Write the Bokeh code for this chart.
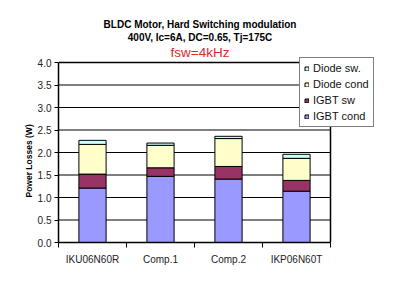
import math
from bokeh.plotting import figure
from bokeh.models import (FixedTicker, Legend, LegendItem, Label, ColumnDataSource,
                          Range1d, PrintfTickFormatter, Title)
from bokeh.embed import file_html
from bokeh.resources import INLINE

# ---- data ----
categories = ["IKU06N60R", "Comp.1", "Comp.2", "IKP06N60T"]
igbt_cond = [1.21, 1.47, 1.41, 1.14]
igbt_sw = [0.31, 0.19, 0.28, 0.24]
diode_cond = [0.66, 0.50, 0.62, 0.49]
diode_sw = [0.09, 0.05, 0.05, 0.09]
series_keys = ["igbt_cond", "igbt_sw", "diode_cond", "diode_sw"]
series_names = ["IGBT cond", "IGBT sw", "Diode cond", "Diode sw."]
series_colors = ["#9999FF", "#993366", "#FFFFCC", "#CCFFFF"]
y_ticks = [0.0, 0.5, 1.0, 1.5, 2.0, 2.5, 3.0, 3.5, 4.0]
title_line1 = "BLDC Motor, Hard Switching modulation"
title_line2 = "400V, Ic=6A, DC=0.65, Tj=175C"
title_line3 = "fsw=4kHz"
y_label = "Power Losses (W)"

FONT = "Liberation Sans"

# layout (pixels)
W, H = 408, 286
LEFT, BOTTOM = 58, 44
PLOT_W, PLOT_H = 272, 180           # the chart's plot area
FRAME_W, FRAME_H = W - LEFT, H - BOTTOM   # frame reaches canvas top/right so that texts are not clipped

n = len(categories)
y_max = y_ticks[-1]
x_pos = [i + 0.5 for i in range(n)]
boundaries = list(range(n + 1))

src = ColumnDataSource(dict(x=x_pos, igbt_cond=igbt_cond, igbt_sw=igbt_sw,
                            diode_cond=diode_cond, diode_sw=diode_sw))

p = figure(width=W, height=H, output_backend="svg", toolbar_location=None, title=None,
           x_range=Range1d(0, n * FRAME_W / PLOT_W), y_range=Range1d(0, y_max * FRAME_H / PLOT_H),
           min_border_left=LEFT, min_border_right=0, min_border_top=0, min_border_bottom=BOTTOM,
           background_fill_color="white", border_fill_color="white")
p.outline_line_color = None
p.grid.visible = False

# gridlines and plot-area border
p.segment(x0=0, x1=n, y0=y_ticks[:-1], y1=y_ticks[:-1], line_color="black", line_width=1)
p.segment(x0=[0], x1=[n], y0=[y_max], y1=[y_max], line_color="black", line_width=1.5)
p.segment(x0=[n], x1=[n], y0=[0], y1=[y_max], line_color="black", line_width=1.5)

renderers = p.vbar_stack(series_keys, x="x", width=0.4, source=src,
                         fill_color=series_colors, line_color="black", line_width=1)

# axes
p.xaxis.bounds = (0, n)
p.xaxis.ticker = FixedTicker(ticks=x_pos, minor_ticks=boundaries)
p.xaxis.major_label_overrides = {x: c for x, c in zip(x_pos, categories)}
p.xaxis.major_tick_out = 0
p.xaxis.major_tick_in = 0
p.xaxis.minor_tick_out = 5
p.xaxis.minor_tick_in = 0
p.xaxis.minor_tick_line_color = "black"
p.xaxis.major_label_standoff = 6
p.xaxis.major_label_text_font = FONT
p.xaxis.major_label_text_font_size = "10px"
p.xaxis.major_label_text_color = "#222222"
p.xaxis.axis_line_width = 1.5
p.xaxis.axis_line_color = "black"

p.yaxis.bounds = (0, y_max)
p.yaxis.ticker = FixedTicker(ticks=y_ticks)
p.yaxis.formatter = PrintfTickFormatter(format="%.1f")
p.yaxis.major_tick_out = 4
p.yaxis.major_tick_in = 0
p.yaxis.minor_tick_line_color = None
p.yaxis.major_label_standoff = 3
p.yaxis.major_label_text_font = FONT
p.yaxis.major_label_text_font_size = "10px"
p.yaxis.major_label_text_color = "#222222"
p.yaxis.axis_line_width = 1.5
p.yaxis.axis_line_color = "black"

# y label as a side title, placed at the reference's position
p.add_layout(Title(text=y_label, align="left", offset=45, standoff=2,
                   text_font=FONT, text_font_size="8.5px", text_font_style="bold",
                   text_color="black"), "left")

# titles
p.add_layout(Label(x=141.5, y=218.3, x_units="screen", y_units="screen", text=title_line1,
                   text_align="center", text_baseline="middle", text_font=FONT,
                   text_font_size="10px", text_font_style="bold", text_color="black"))
p.add_layout(Label(x=141.5, y=205, x_units="screen", y_units="screen", text=title_line2,
                   text_align="center", text_baseline="middle", text_font=FONT,
                   text_font_size="10px", text_font_style="bold", text_color="black"))
p.add_layout(Label(x=141.5, y=190, x_units="screen", y_units="screen", text=title_line3,
                   text_align="center", text_baseline="middle", text_font=FONT,
                   text_font_size="13.5px", text_color="#E02828"))

# legend
items = [LegendItem(label=nm, renderers=[r]) for nm, r in zip(series_names, renderers)][::-1]
legend = Legend(items=items, location=(241, 115), margin=0, padding=4,
                glyph_width=5, glyph_height=5, label_standoff=4,
                label_height=12, spacing=4,
                label_text_font=FONT, label_text_font_size="11px", label_text_color="#111111",
                border_line_color="black", border_line_width=1,
                background_fill_color="white", background_fill_alpha=1)
p.add_layout(legend, "center")

open("out.html", "w").write(file_html(p, INLINE))
